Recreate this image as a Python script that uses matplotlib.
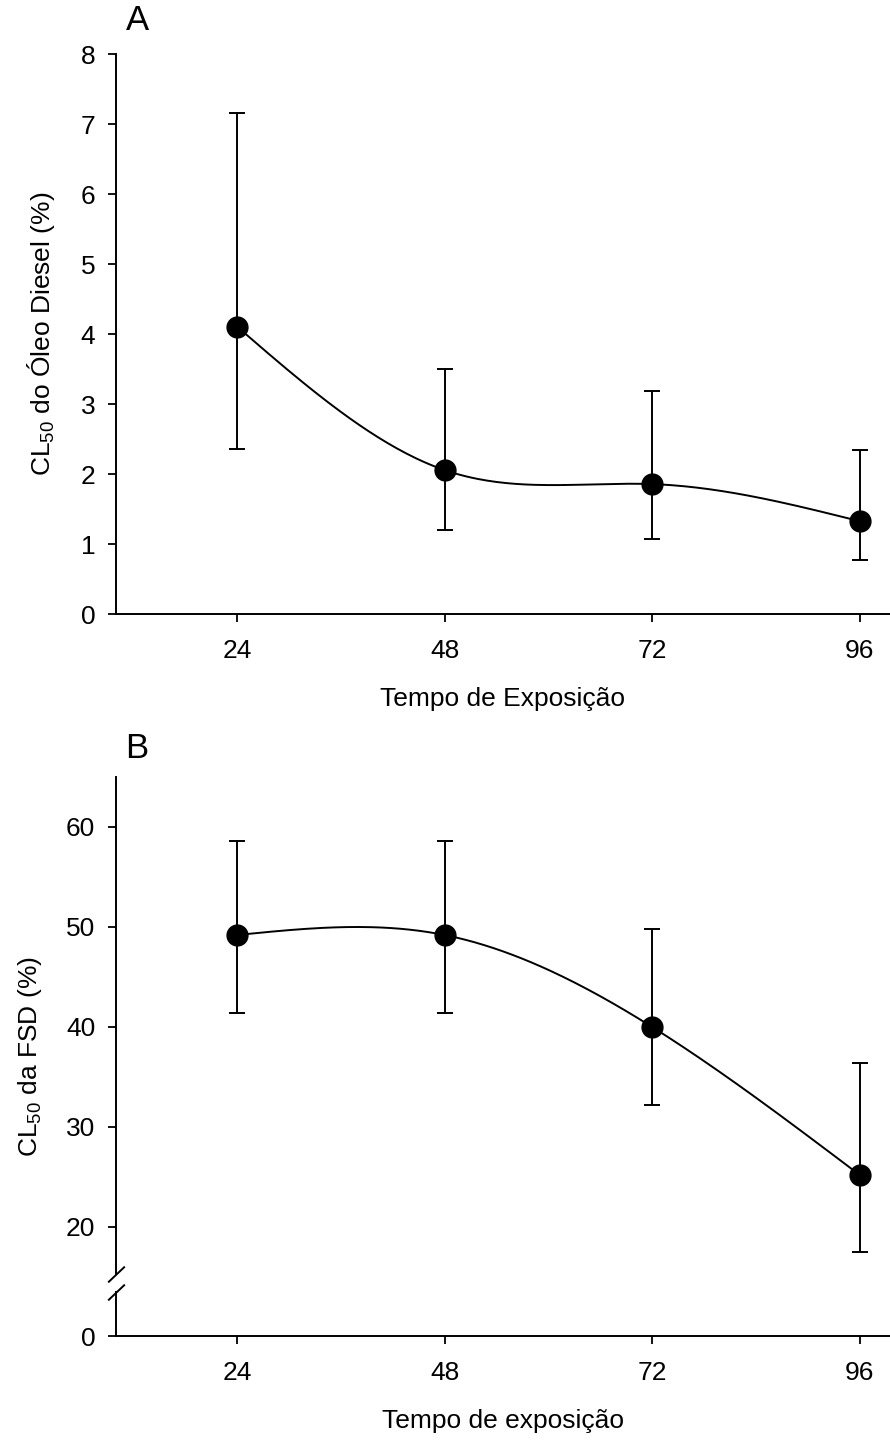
import numpy as np
import matplotlib
matplotlib.use("Agg")
import matplotlib.pyplot as plt

plt.rcParams['font.family'] = ['Liberation Sans', 'DejaVu Sans']
plt.rcParams['mathtext.default'] = 'regular'

# data
hours = [24, 48, 72, 96]
diesel = [4.11, 2.06, 1.86, 1.33]
diesel_hi = [7.16, 3.51, 3.19, 2.35]
diesel_lo = [2.36, 1.21, 1.08, 0.77]
fsd = [49.2, 49.2, 40.0, 25.2]
fsd_hi = [58.6, 58.6, 49.8, 36.4]
fsd_lo = [41.4, 41.4, 32.2, 17.5]


def spline(x, y, n=200):
    # natural cubic spline through the points, for the smooth connecting line
    x = np.asarray(x, float)
    y = np.asarray(y, float)
    m = len(x)
    h = np.diff(x)
    A = np.zeros((m, m))
    b = np.zeros(m)
    A[0, 0] = A[-1, -1] = 1
    for i in range(1, m - 1):
        A[i, i - 1] = h[i - 1]
        A[i, i] = 2 * (h[i - 1] + h[i])
        A[i, i + 1] = h[i]
        b[i] = 6 * ((y[i + 1] - y[i]) / h[i] - (y[i] - y[i - 1]) / h[i - 1])
    M = np.linalg.solve(A, b)
    xs = np.linspace(x[0], x[-1], n)
    k = np.clip(np.searchsorted(x, xs) - 1, 0, m - 2)
    t0 = x[k + 1] - xs
    t1 = xs - x[k]
    hk = h[k]
    ys = (M[k] * t0 ** 3 / (6 * hk) + M[k + 1] * t1 ** 3 / (6 * hk)
          + (y[k] / hk - M[k] * hk / 6) * t0 + (y[k + 1] / hk - M[k + 1] * hk / 6) * t1)
    return xs, ys


W, H = 890, 1441
FS = 19
fig = plt.figure(figsize=(W / 100, H / 100), dpi=100)

left = 116 / W
width = (W - 116) / W
axA = fig.add_axes([left, 1 - 614.3 / H, width, 560 / H])
axB = fig.add_axes([left, 1 - 1336 / H, width, 559 / H])


def style(ax):
    for s in ['top', 'right']:
        ax.spines[s].set_visible(False)
    for s in ['left', 'bottom']:
        ax.spines[s].set_linewidth(1.4)
    ax.tick_params(direction='out', length=6, width=1.3, labelsize=FS)
    ax.tick_params(axis='x', pad=12)
    ax.tick_params(axis='y', pad=9)
    ax.set_xlim(10, 99.5)
    ax.set_xticks(hours)


def draw(ax, vals, lo, hi):
    xs, ys = spline(hours, vals)
    ax.plot(xs, ys, color='black', lw=1.4, zorder=2)
    yerr = [np.array(vals) - np.array(lo), np.array(hi) - np.array(vals)]
    ax.errorbar(hours, vals, yerr=yerr, fmt='none', ecolor='black',
                elinewidth=1.4, capsize=6, capthick=1.4, zorder=3)
    ax.plot(hours, vals, 'o', color='black', ms=15, zorder=4)


# panel A
style(axA)
draw(axA, diesel, diesel_lo, diesel_hi)
axA.set_ylim(0, 8)
axA.set_yticks(range(0, 9))
axA.set_xlabel('Tempo de Exposição', fontsize=FS, labelpad=17)
axA.set_ylabel('CL$_{50}$ do Óleo Diesel (%)', fontsize=FS, labelpad=17)
fig.text(137 / W, 1 - 21 / H, 'A', fontsize=25, ha='center', va='center')

# panel B with a broken y axis (0 shown below the break)


def fwd(y):
    y = np.asarray(y, float)
    return np.where(y >= 15, y - 9.1, y * 5.9 / 15)


def inv(t):
    t = np.asarray(t, float)
    return np.where(t >= 5.9, t + 9.1, t * 15 / 5.9)


style(axB)
axB.set_yscale('function', functions=(fwd, inv))
axB.set_ylim(0, 65)
axB.set_yticks([0, 20, 30, 40, 50, 60])
axB.set_yticklabels(['0', '20', '30', '40', '50', '60'])
draw(axB, fsd, fsd_lo, fsd_hi)
axB.spines['left'].set_visible(False)
tr = axB.get_yaxis_transform()
brk_lo, brk_hi = 11.2, 15.3
axB.plot([0, 0], [0, brk_lo], color='black', lw=1.4, transform=tr, clip_on=False)
axB.plot([0, 0], [brk_hi, 65], color='black', lw=1.4, transform=tr, clip_on=False)
axB.plot([0, 0], [brk_lo, brk_hi], ls='none', marker=[(-1, -0.95), (1, 0.95)],
         ms=12, mec='black', mew=1.4, transform=tr, clip_on=False)
axB.set_xlabel('Tempo de exposição', fontsize=FS, labelpad=17)
axB.set_ylabel('CL$_{50}$ da FSD (%)', fontsize=FS, labelpad=16)
fig.text(137 / W, 1 - 748 / H, 'B', fontsize=25, ha='center', va='center')

fig.savefig('out.png', dpi=100)
